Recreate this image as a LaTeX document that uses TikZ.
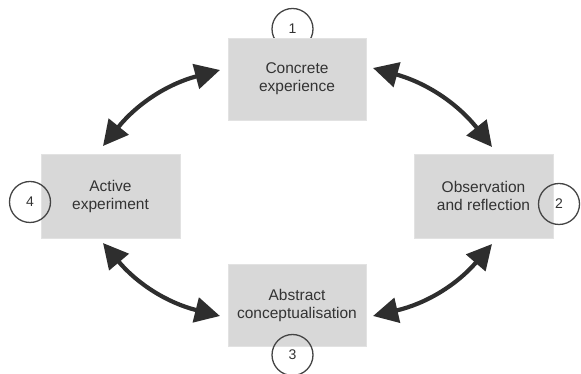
\documentclass[tikz,border=0pt]{standalone}
\usepackage{fontspec}
\setmainfont{Liberation Sans}
\usetikzlibrary{arrows.meta}
\definecolor{boxfill}{HTML}{D8D8D8}
\definecolor{boxline}{HTML}{E2E2E2}
\definecolor{txt}{HTML}{333333}
\definecolor{arr}{HTML}{2E2E2E}
\definecolor{circ}{HTML}{444444}
\tikzset{
  stagebox/.style={draw=boxline, line width=0.8pt, fill=boxfill, text=txt,
    align=center, inner sep=0pt, font=\fontsize{15.5}{18}\selectfont},
  numcirc/.style={circle, draw=circ, line width=1.3pt, minimum size=41pt,
    inner sep=0pt, text=txt, font=\fontsize{14}{16}\selectfont},
  cyclearrow/.style={draw=arr, line width=4.2pt,
    {Triangle[length=25pt,width=25pt]}-{Triangle[length=25pt,width=25pt]}}
}
\begin{document}
\begin{tikzpicture}[x=1pt,y=1pt]
\useasboundingbox (0,0) rectangle (581,374);
% circle partly behind the top box
\node[numcirc] (n1) at (292.5,345) {1};
% boxes
\node[stagebox, minimum width=138pt, minimum height=82pt] (ce) at (297,295) {Concrete\\experience};
\node[stagebox, minimum width=139pt, minimum height=84pt] (ae) at (110.5,178) {Active\\experiment};
\node[stagebox, minimum width=139pt, minimum height=84pt] (or) at (483.5,178) {Observation\\and reflection};
\node[stagebox, minimum width=138pt, minimum height=82pt] (ac) at (297,69) {Abstract\\conceptualisation};
% circles over the boxes
\node[numcirc] (n3) at (292.5,19) {3};
\node[numcirc] (n2) at (559,170) {2};
\node[numcirc] (n4) at (30,172) {4};
% arrow end points
\coordinate (a1) at (220,304);
\coordinate (b1) at (103,228);
\coordinate (a2) at (373,306);
\coordinate (b2) at (492,227);
\coordinate (a3) at (103,131);
\coordinate (b3) at (220,58);
\coordinate (a4) at (492,130);
\coordinate (b4) at (373,58);
% arrows
\draw[cyclearrow] (a1) to[bend right=18] (b1);
\draw[cyclearrow] (a2) to[bend left=18] (b2);
\draw[cyclearrow] (a3) to[bend right=18] (b3);
\draw[cyclearrow] (a4) to[bend left=18] (b4);
\end{tikzpicture}
\end{document}
